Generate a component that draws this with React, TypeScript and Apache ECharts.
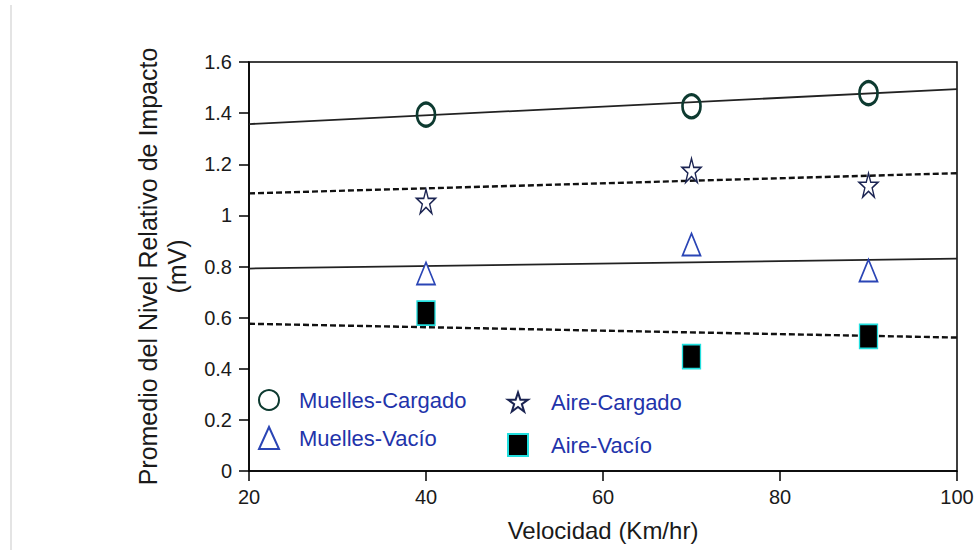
import React, { useEffect, useRef } from "react";
import * as echarts from "echarts";

const seriesNames = ["Muelles-Cargado", "Muelles-Vacío", "Aire-Cargado", "Aire-Vacío"];
const velocidades = [40, 70, 90];
const muellesCargado = [1.394, 1.427, 1.478];
const muellesVacio = [0.773, 0.886, 0.784];
const aireCargado = [1.055, 1.176, 1.118];
const aireVacio = [0.618, 0.447, 0.527];

// trend lines: value at x = 20 and x = 100
const trendX = [20, 100];
const trendMuellesCargado = [1.357, 1.494];
const trendAireCargado = [1.086, 1.165];
const trendMuellesVacio = [0.792, 0.831];
const trendAireVacio = [0.576, 0.522];

const xTicks = [20, 40, 60, 80, 100];
const yTicks = [0, 0.2, 0.4, 0.6, 0.8, 1, 1.2, 1.4, 1.6];

const STAR = "path://M50,2 L61,36 L97,36 L68,57 L79,92 L50,70 L21,92 L32,57 L3,36 L39,36 Z";
const FONT = "Liberation Sans, Arial, sans-serif";

const pts = (ys: number[]) => velocidades.map((x, i) => [x, ys[i]]);
const trend = (ys: number[]) => trendX.map((x, i) => [x, ys[i]]);

export default function App() {
  const ref = useRef<HTMLDivElement>(null);
  useEffect(() => {
    if (!ref.current) return;
    const chart = echarts.init(ref.current, null, { renderer: "svg" });
    const legendText = { color: "#2233aa", fontSize: 22, fontFamily: FONT };
    const mkLegend = (name: string, left: number, top: number, padL: number, padT: number) => ({
      data: [name],
      left,
      top,
      orient: "horizontal",
      itemWidth: 20,
      itemHeight: 22,
      padding: 0,
      selectedMode: false,
      textStyle: { ...legendText, padding: [padT, 0, 0, padL] },
    });
    const trendSeries = (ys: number[], dashed: boolean) => ({
      type: "line",
      data: trend(ys),
      symbol: "none",
      silent: true,
      z: 1,
      lineStyle: {
        color: dashed ? "#111" : "#222",
        width: dashed ? 2.4 : 1.8,
        type: dashed ? [6, 3] : "solid",
      },
    });
    chart.setOption({
      animation: false,
      backgroundColor: "#fff",
      grid: {
        left: 249,
        right: 19,
        top: 62,
        bottom: 79,
        show: true,
        borderColor: "#000",
        borderWidth: 1.5,
        outerBoundsMode: "none",
        containLabel: false,
      },
      graphic: [
        { type: "rect", shape: { x: 10, y: 5, width: 2, height: 545 }, style: { fill: "#e4e4e4" }, silent: true },
      ],
      legend: [
        mkLegend(seriesNames[0], 258, 389, 15, 0),
        mkLegend(seriesNames[1], 258, 426, 15, 2),
        mkLegend(seriesNames[2], 507, 391, 18, 6),
        mkLegend(seriesNames[3], 507, 433, 18, 6),
      ],
      xAxis: {
        type: "value",
        min: xTicks[0],
        max: xTicks[xTicks.length - 1],
        interval: 20,
        name: "Velocidad (Km/hr)",
        nameLocation: "middle",
        nameGap: 47,
        nameTextStyle: { fontSize: 24, color: "#1a1a1a", fontFamily: FONT },
        axisLine: { lineStyle: { color: "#000", width: 1.5 } },
        axisTick: { inside: false, length: 10, lineStyle: { color: "#000", width: 1.5 } },
        axisLabel: { fontSize: 20, color: "#1a1a1a", fontFamily: FONT, margin: 16 },
        splitLine: { show: false },
      },
      yAxis: {
        type: "value",
        min: yTicks[0],
        max: yTicks[yTicks.length - 1],
        interval: 0.2,
        name: "Promedio del Nivel Relativo de Impacto\n(mV)",
        nameLocation: "middle",
        nameGap: 58,
        nameTextStyle: { fontSize: 25, color: "#1a1a1a", fontFamily: FONT, lineHeight: 29 },
        axisLine: { lineStyle: { color: "#000", width: 1.5 } },
        axisTick: { length: 10, lineStyle: { color: "#000", width: 1.5 } },
        axisLabel: { fontSize: 20, color: "#1a1a1a", fontFamily: FONT, margin: 17 },
        splitLine: { show: false },
      },
      series: [
        trendSeries(trendMuellesCargado, false),
        trendSeries(trendAireCargado, true),
        trendSeries(trendMuellesVacio, false),
        trendSeries(trendAireVacio, true),
        {
          name: seriesNames[0],
          type: "scatter",
          data: pts(muellesCargado),
          symbol: "circle",
          symbolSize: [18, 23],
          z: 3,
          itemStyle: { color: "rgba(255,255,255,0)", borderColor: "#0d3a30", borderWidth: 3, opacity: 1 },
        },
        {
          name: seriesNames[1],
          type: "scatter",
          data: pts(muellesVacio),
          symbol: "triangle",
          symbolSize: [18, 22],
          z: 3,
          itemStyle: { color: "#fff", borderColor: "#2a45b5", borderWidth: 1.8, opacity: 1 },
        },
        {
          name: seriesNames[2],
          type: "scatter",
          data: pts(aireCargado),
          symbol: STAR,
          symbolSize: [19, 24],
          z: 3,
          itemStyle: { color: "#fff", borderColor: "#1b2452", borderWidth: 1.5, opacity: 1 },
        },
        {
          name: seriesNames[3],
          type: "scatter",
          data: pts(aireVacio),
          symbol: "rect",
          symbolSize: [18, 24],
          z: 3,
          itemStyle: { color: "#000", borderColor: "#22dede", borderWidth: 1.5, opacity: 1 },
        },
      ],
    });
    return () => chart.dispose();
  }, []);
  return <div ref={ref} style={{ position: "absolute", left: 0, top: 0, width: 976, height: 550 }} />;
}
